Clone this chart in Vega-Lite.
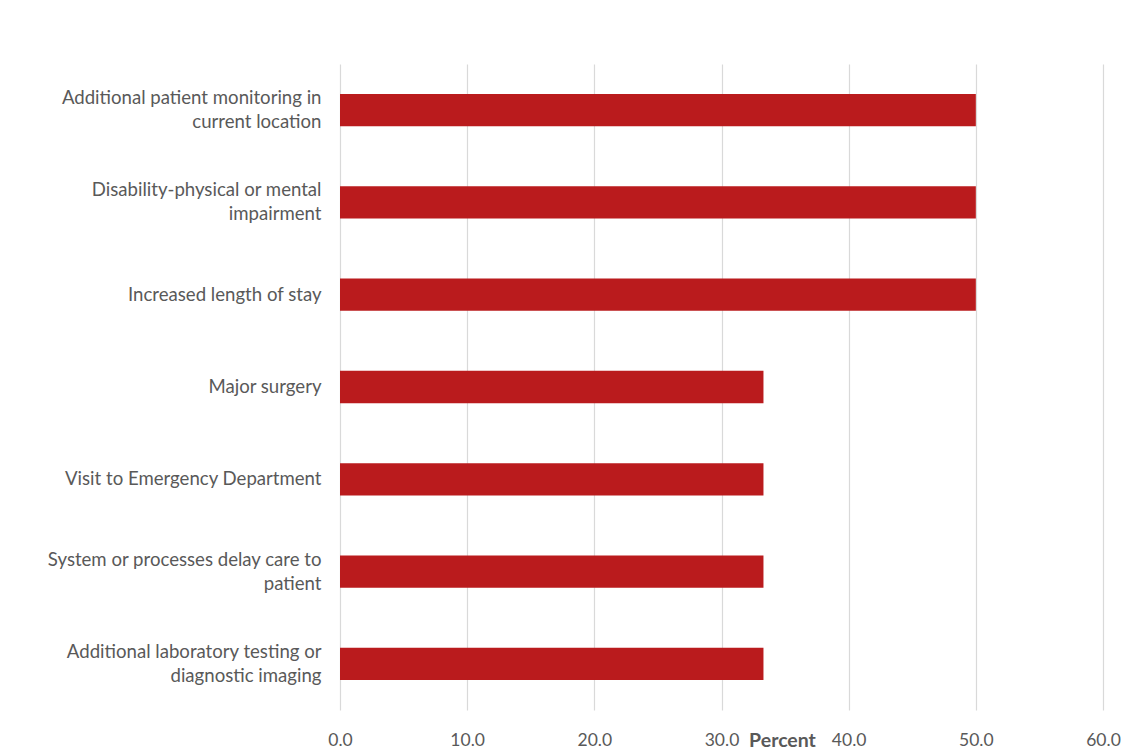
{
  "$schema": "https://vega.github.io/schema/vega-lite/v6.json",
  "width": 763,
  "height": 646,
  "autosize": {"type": "none"},
  "padding": {"left": 340, "top": 64, "right": 19, "bottom": 42},
  "background": "white",
  "data": {
    "values": [
      {"cause": "Additional patient monitoring in|current location", "percent": 50.0, "order": 1},
      {"cause": "Disability-physical or mental|impairment", "percent": 50.0, "order": 2},
      {"cause": "Increased length of stay", "percent": 50.0, "order": 3},
      {"cause": "Major surgery", "percent": 33.3, "order": 4},
      {"cause": "Visit to Emergency Department", "percent": 33.3, "order": 5},
      {"cause": "System or processes delay care to|patient", "percent": 33.3, "order": 6},
      {"cause": "Additional laboratory testing or|diagnostic imaging", "percent": 33.3, "order": 7}
    ]
  },
  "mark": {"type": "bar", "color": "#BA1B1D"},
  "encoding": {
    "y": {
      "field": "cause",
      "type": "nominal",
      "sort": {"field": "order", "order": "ascending"},
      "scale": {"paddingInner": 0.65, "paddingOuter": 0.325},
      "axis": {
        "title": null,
        "domain": false,
        "ticks": false,
        "tickSize": 0,
        "grid": false,
        "labelExpr": "split(datum.label, '|')",
        "labelOffset": {"condition": {"test": "indexof(datum.value, '|') >= 0", "value": -12}, "value": 0},
        "labelPadding": 19,
        "labelFont": "Lato",
        "labelFontSize": 18.6,
        "labelColor": "#595959",
        "labelLineHeight": 24,
        "labelLimit": 400
      }
    },
    "x": {
      "field": "percent",
      "type": "quantitative",
      "scale": {"domain": [0, 60], "nice": false},
      "axis": {
        "title": "Percent",
        "values": [0, 10, 20, 30, 40, 50, 60],
        "format": ".1f",
        "domain": false,
        "ticks": false,
        "tickSize": 0,
        "grid": true,
        "gridColor": "#D9D9D9",
        "gridWidth": 1.2,
        "labelFlush": false,
        "labelPadding": 21,
        "labelFont": "Lato",
        "labelFontSize": 17.5,
        "labelColor": "#595959",
        "titleFont": "Lato",
        "titleFontSize": 19.5,
        "titleFontWeight": "bold",
        "titleColor": "#595959",
        "titleX": 442,
        "titleY": 21,
        "titleBaseline": "top",
        "titleAlign": "center"
      }
    }
  },
  "config": {"view": {"stroke": null}}
}
